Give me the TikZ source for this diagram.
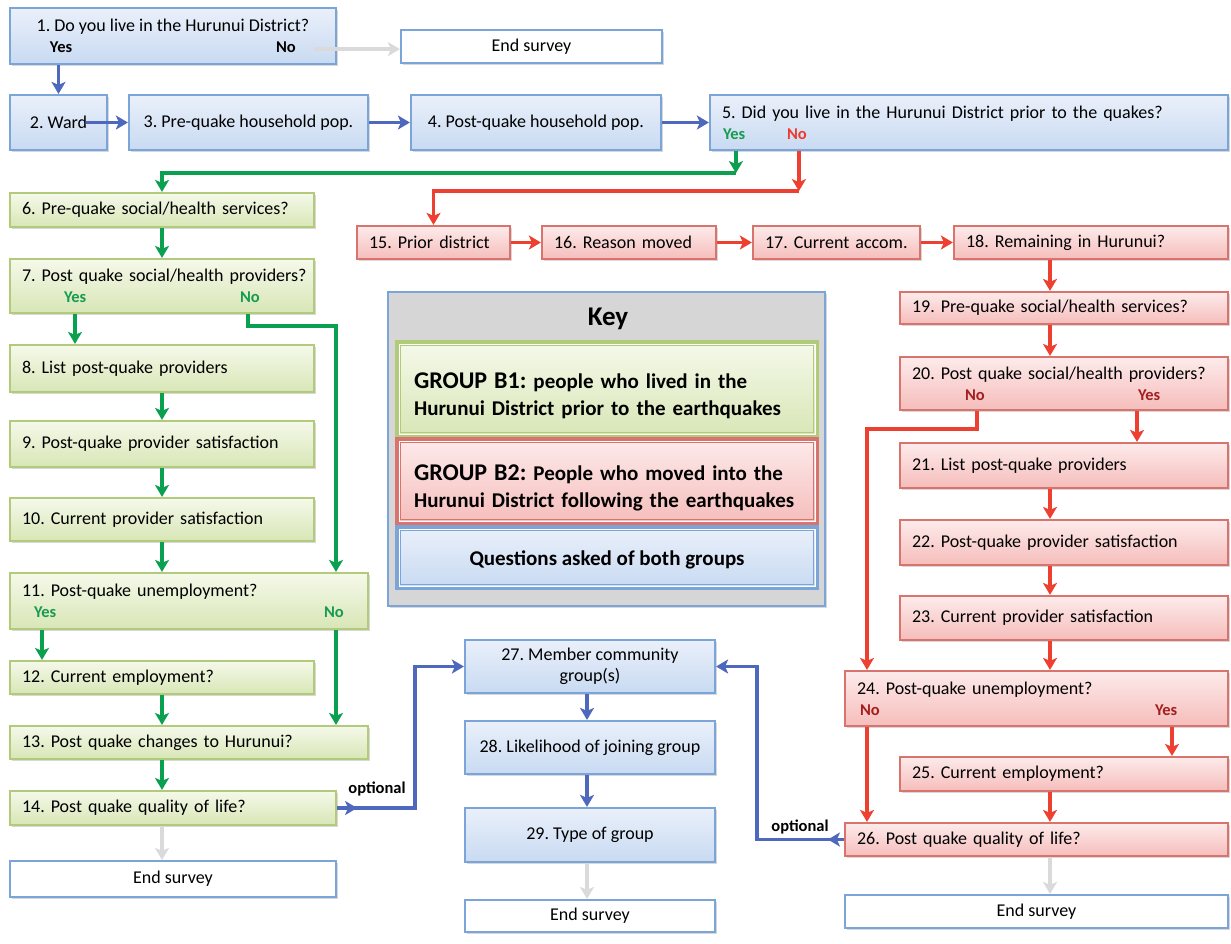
\documentclass[tikz,border=0pt]{standalone}
\usepackage{fontspec}
\setmainfont{Carlito}
\frenchspacing
\usetikzlibrary{arrows.meta,shadows}
\definecolor{bfillT}{HTML}{EAF0FA}
\definecolor{bfillB}{HTML}{C8DAF2}
\definecolor{bline}{HTML}{7BA4D8}
\definecolor{gfillT}{HTML}{F5F9EA}
\definecolor{gfillB}{HTML}{D8E6B6}
\definecolor{gline}{HTML}{B2CB7A}
\definecolor{rfillT}{HTML}{FDEBEB}
\definecolor{rfillB}{HTML}{F5BDBB}
\definecolor{rline}{HTML}{D8736E}
\definecolor{cBA}{HTML}{4D68BC}
\definecolor{cGA}{HTML}{0AA050}
\definecolor{cRA}{HTML}{EE4030}
\definecolor{cGray}{HTML}{DADADA}
\definecolor{keyfill}{HTML}{D6D6D6}
\definecolor{yesgreen}{HTML}{179C4F}
\definecolor{nored}{HTML}{EE3B2E}
\definecolor{darkred}{HTML}{A3201F}
\newcommand\yn[2]{\textcolor{#1}{\fontsize{16.5}{19}\selectfont\bfseries #2}}
\newcommand\ynl[5]{\makebox[#1pt][l]{\hspace*{#2pt}\rlap{#3}\hspace*{#4pt}\rlap{#5}}}
\newcommand\bxc[7]{\pgfmathsetmacro\bw{#5-#3}\pgfmathsetmacro\bh{#6-#4}%
  \node[#1, align=center, minimum width=\bw pt, minimum height=\bh pt] (#2) at ({(#3+#5)/2},{(#4+#6)/2}) {#7};}
\newcommand\bxl[7]{\pgfmathsetmacro\bw{#5-#3}\pgfmathsetmacro\bh{#6-#4}\pgfmathsetmacro\tw{#5-#3-24}%
  \node[#1, align=left, text width=\tw pt, minimum width=\bw pt, minimum height=\bh pt] (#2) at ({(#3+#5)/2},{(#4+#6)/2}) {#7};}
\begin{document}
\begin{tikzpicture}[x=1pt,y=-1pt,font=\fontsize{18}{21}\selectfont,
  base/.style={rectangle, line width=2.2pt, inner xsep=12pt, inner ysep=2pt,
    drop shadow={shadow xshift=1.5pt,shadow yshift=-2pt,opacity=0.3}},
  bq/.style={base, draw=bline, top color=bfillT, bottom color=bfillB},
  gq/.style={base, draw=gline, top color=gfillT, bottom color=gfillB},
  rq/.style={base, draw=rline, top color=rfillT, bottom color=rfillB},
  endq/.style={base, draw=bline, fill=white},
  arr/.style={line width=3.6pt, -{Stealth[length=12pt,width=14pt,inset=3pt]}},
  ab/.style={arr, draw=cBA}, ag/.style={arr, draw=cGA}, ar/.style={arr, draw=cRA},
  agr/.style={arr, draw=cGray},
  lbl/.style={font=\fontsize{16.5}{19}\selectfont\bfseries},
  keytxt/.style={font=\fontsize{21}{27}\selectfont\bfseries}
]
\fill[white] (0,0) rectangle (1231,943);
\useasboundingbox (0,0) rectangle (1231,943);

% ---------- top row ----------
\bxc{bq}{n1}{10}{8}{336}{64}{1. Do you live in the Hurunui District?\\\ynl{302}{28}{\yn{black}{Yes}}{226}{\yn{black}{No}}}
\bxc{endq}{e1}{401}{30}{662}{63}{End survey}
\bxc{bq}{n2}{10}{95}{107}{150}{2. Ward}
\bxc{bq}{n3}{129}{95}{368}{150}{3. Pre-quake household pop.}
\bxc{bq}{n4}{411}{95}{661}{150}{4. Post-quake household pop.}
\bxl{bq}{n5}{710}{95}{1228}{150}{5. Did you live in the Hurunui District prior to the quakes?\\\ynl{494}{1}{\yn{yesgreen}{Yes}}{64}{\yn{nored}{No}}}

% ---------- left column (group B1) ----------
\bxl{gq}{n6}{10}{193}{314}{227}{6. Pre-quake social/health services?}
\bxl{gq}{n7}{10}{259}{314}{313}{\mbox{7. Post quake social/health providers?}\\\ynl{280}{42}{\yn{yesgreen}{Yes}}{176}{\yn{yesgreen}{No}}}
\bxl{gq}{n8}{10}{345}{314}{392}{8. List post-quake providers}
\bxl{gq}{n9}{10}{421}{314}{467}{9. Post-quake provider satisfaction}
\bxl{gq}{n10}{10}{498}{314}{541}{10. Current provider satisfaction}
\bxl{gq}{n11}{10}{573}{368}{629}{11. Post-quake unemployment?\\\ynl{334}{12}{\yn{yesgreen}{Yes}}{290}{\yn{yesgreen}{No}}}
\bxl{gq}{n12}{10}{661}{314}{694}{12. Current employment?}
\bxl{gq}{n13}{10}{726}{368}{759}{13. Post quake changes to Hurunui?}
\bxl{gq}{n14}{10}{791}{336}{825}{14. Post quake quality of life?}
\bxc{endq}{e2}{10}{861}{336}{897}{End survey}

% ---------- red (group B2) ----------
\bxl{rq}{n15}{357}{226}{510}{259}{15. Prior district}
\bxl{rq}{n16}{542}{226}{716}{259}{16. Reason moved}
\bxl{rq}{n17}{753}{226}{920}{259}{17. Current accom.}
\bxl{rq}{n18}{954}{226}{1228}{259}{18. Remaining in Hurunui?}
\bxl{rq}{n19}{900}{292}{1228}{324}{19. Pre-quake social/health services?}
\bxl{rq}{n20}{900}{357}{1228}{410}{\mbox{20. Post quake social/health providers?}\\\ynl{304}{53}{\yn{darkred}{No}}{173}{\yn{darkred}{Yes}}}
\bxl{rq}{n21}{900}{443}{1228}{488}{21. List post-quake providers}
\bxl{rq}{n22}{900}{520}{1228}{565}{22. Post-quake provider satisfaction}
\bxl{rq}{n23}{900}{596}{1228}{640}{23. Current provider satisfaction}
\bxl{rq}{n24}{845}{671}{1228}{726}{24. Post-quake unemployment?\\\ynl{359}{3}{\yn{darkred}{No}}{295}{\yn{darkred}{Yes}}}
\bxl{rq}{n25}{900}{757}{1228}{791}{25. Current employment?}
\bxl{rq}{n26}{845}{823}{1228}{856}{26. Post quake quality of life?}
\bxc{endq}{e4}{845}{895}{1228}{928}{End survey}

% ---------- middle (both groups) ----------
\bxc{bq}{n27}{465}{640}{715}{693}{27. Member community\\group(s)}
\bxc{bq}{n28}{465}{721}{715}{774}{28. Likelihood of joining group}
\bxc{bq}{n29}{465}{808}{715}{862}{29. Type of group}
\bxc{endq}{e3}{465}{900}{715}{932}{End survey}

% ---------- key ----------
\bxc{base, draw=bline, fill=keyfill, line width=2pt}{key}{388}{292}{825}{606}{}
\node[font=\fontsize{27}{30}\selectfont\bfseries] (keyt) at (608,319) {Key};
\bxl{gq, keytxt, line width=4pt}{kg}{397}{342}{817}{436}{\mbox{\rule{0pt}{30pt}\hspace*{5pt}{\fontsize{24}{28}\selectfont GROUP B1:} people who lived in the}\\\mbox{\hspace*{5pt}Hurunui District prior to the earthquakes}}
\bxl{rq, keytxt, line width=4pt}{kr}{397}{439}{817}{523}{\mbox{\rule{0pt}{30pt}\hspace*{5pt}{\fontsize{24}{28}\selectfont GROUP B2:} People who moved into the}\\\mbox{\hspace*{5pt}Hurunui District following the earthquakes}}
\bxc{bq, keytxt, line width=4pt}{kb}{397}{527}{817}{588}{\rule{0pt}{19pt}Questions asked of both groups}
\draw[white, line width=0.9pt] ([shift={(4,4)}]kg.north west) rectangle ([shift={(-4,-4)}]kg.south east);
\draw[gline, line width=0.6pt] ([shift={(5.5,5.5)}]kg.north west) rectangle ([shift={(-5.5,-5.5)}]kg.south east);
\draw[white, line width=0.9pt] ([shift={(4,4)}]kr.north west) rectangle ([shift={(-4,-4)}]kr.south east);
\draw[rline, line width=0.6pt] ([shift={(5.5,5.5)}]kr.north west) rectangle ([shift={(-5.5,-5.5)}]kr.south east);
\draw[white, line width=0.9pt] ([shift={(4,4)}]kb.north west) rectangle ([shift={(-4,-4)}]kb.south east);
\draw[bline, line width=0.6pt] ([shift={(5.5,5.5)}]kb.north west) rectangle ([shift={(-5.5,-5.5)}]kb.south east);

% ---------- labels ----------
\node[lbl] (opt1) at (377,789) {optional};
\node[lbl] (opt2) at (800,827) {optional};

% ---------- connectors: top ----------
\coordinate (s1) at ([shift={(-23,-16)}]n1.south east);
\draw[agr] (s1) -- (s1 -| e1.west);
\draw[ab] (n2.north |- n1.south) -- (n2.north);
\draw[ab] ([xshift=-22pt]n2.east) -- (n3.west);
\draw[ab] (n3.east) -- (n4.west);
\draw[ab] (n4.east) -- (n5.west);

% 5 yes / no
\coordinate (g1) at ([xshift=27pt]n5.south west);
\coordinate (g2) at ([yshift=-22pt]g1);
\draw[ag] (g1) -- (g2);
\draw[ag] (g2) -| (n6.north);
\coordinate (r1) at ([xshift=90pt]n5.south west);
\coordinate (r2) at ([yshift=-40pt]r1);
\draw[ar] (r1) -- (r2);
\draw[ar] (r2) -| (n15.north);

% ---------- connectors: red ----------
\draw[ar] (n15.east) -- (n16.west);
\draw[ar] (n16.east) -- (n17.west);
\draw[ar] (n17.east) -- (n18.west);
\coordinate (rc) at (1050,0);
\draw[ar] (rc |- n18.south) -- (rc |- n19.north);
\draw[ar] (rc |- n19.south) -- (rc |- n20.north);
\draw[ar] (rc |- n21.south) -- (rc |- n22.north);
\draw[ar] (rc |- n22.south) -- (rc |- n23.north);
\draw[ar] (rc |- n23.south) -- (rc |- n24.north);
\draw[ar] (rc |- n25.south) -- (rc |- n26.north);
\draw[agr] (rc |- n26.south) -- (rc |- e4.north);
\coordinate (ry) at (1137,0);
\draw[ar] (ry |- n20.south) -- (ry |- n21.north);
\coordinate (rn1) at (977,0);
\coordinate (rn2) at (867,0);
\draw[ar] (rn1 |- n20.south) -- ++(0,18) -| (rn2 |- n24.north);
\draw[ar] (rn2 |- n24.south) -- (rn2 |- n26.north);
\coordinate (ry2) at (1172,0);
\draw[ar] (ry2 |- n24.south) -- (ry2 |- n25.north);

% ---------- connectors: green ----------
\coordinate (lc) at (162,0);
\draw[ag] (lc |- n6.south) -- (lc |- n7.north);
\coordinate (ly) at (75,0);
\draw[ag] (ly |- n7.south) -- (ly |- n8.north);
\draw[ag] (lc |- n8.south) -- (lc |- n9.north);
\draw[ag] (lc |- n9.south) -- (lc |- n10.north);
\draw[ag] (lc |- n10.south) -- (lc |- n11.north);
\coordinate (ln) at (248,0);
\coordinate (lr) at (336,0);
\draw[ag] (ln |- n7.south) -- ++(0,12) -| (lr |- n11.north);
\coordinate (ly2) at (42,0);
\draw[ag] (ly2 |- n11.south) -- (ly2 |- n12.north);
\draw[ag] (lc |- n12.south) -- (lc |- n13.north);
\draw[ag] (lr |- n11.south) -- (lr |- n13.north);
\draw[ag] (lc |- n13.south) -- (lc |- n14.north);
\draw[agr] (lc |- n14.south) -- (lc |- e2.north);

% ---------- connectors: blue (both groups) ----------
\coordinate (bx1) at (415,0);
\draw[ab] (n14.east) -- ([xshift=20pt]n14.east);
\draw[ab] (n14.east) -| (bx1 |- n27.west) -- (n27.west);
\coordinate (bx2) at (757,0);
\draw[ab] (n26.west) -- ([xshift=-16pt]n26.west);
\draw[ab] (n26.west) -| (bx2 |- n27.east) -- (n27.east);
\coordinate (mc) at (587,0);
\draw[ab] (mc |- n27.south) -- (mc |- n28.north);
\draw[ab] (mc |- n28.south) -- (mc |- n29.north);
\draw[agr] (mc |- n29.south) -- (mc |- e3.north);
\end{tikzpicture}
\end{document}
